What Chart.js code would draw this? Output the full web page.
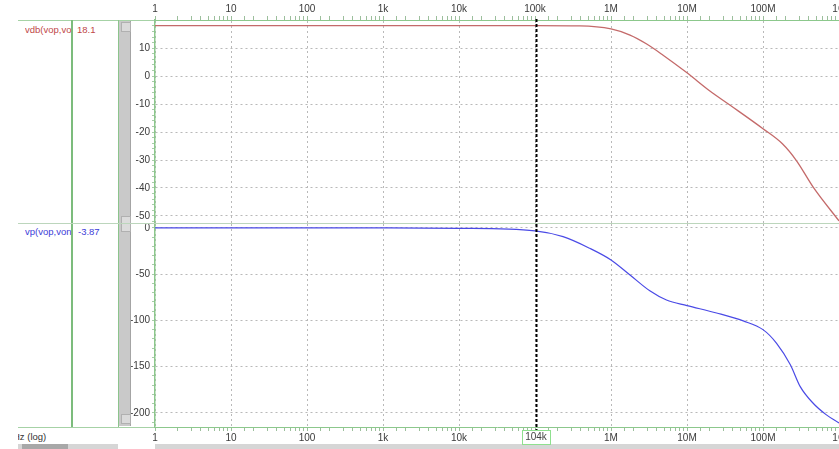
<!DOCTYPE html>
<html>
<head>
<meta charset="utf-8">
<script src="https://cdn.jsdelivr.net/npm/chart.js@4.4.1/dist/chart.umd.min.js"></script>
<style>
  body { margin: 0; width: 839px; height: 449px; overflow: hidden; background: #fff; position: relative;
         font-family: "Liberation Sans", Arial, sans-serif; }
  .abs { position: absolute; }
  .name { font-size: 9.5px; white-space: nowrap; overflow: hidden; }
  canvas { position: absolute; }
</style>
</head>
<body>
<!-- left trace list panel -->
<div class="abs" style="left:18px;top:20px;width:137px;height:1px;background:#a6d2a6"></div>
<div class="abs" style="left:18px;top:223px;width:821px;height:1px;background:#bcd6bc;z-index:2"></div>
<div class="abs" style="left:18px;top:427px;width:137px;height:1px;background:#a6d2a6"></div>
<div class="abs" style="left:71px;top:20px;width:2px;height:407px;background:#7cbc7c"></div>
<div class="abs" style="left:118px;top:20px;width:1px;height:407px;background:#8cc48c"></div>
<div class="abs" style="left:119px;top:21px;width:11px;height:405px;background:#c9c9c9;border-right:1px solid #a4a4a4"></div>
<div class="abs" style="left:121px;top:22px;width:8px;height:8px;background:#dadada;border:1px solid #b0b0b0"></div>
<div class="abs" style="left:121px;top:216px;width:8px;height:14px;background:#dcdcdc;border:1px solid #b0b0b0"></div>
<div class="abs" style="left:121px;top:414px;width:8px;height:8px;background:#dadada;border:1px solid #b0b0b0"></div>

<div class="abs name" style="left:25px;top:24px;width:46px;color:#c04848">vdb(vop,von)</div>
<div class="abs name" style="left:77px;top:24px;color:#c04848">18.1</div>
<div class="abs name" style="left:25px;top:226px;width:46px;color:#3c3cd8">vp(vop,von)</div>
<div class="abs name" style="left:78px;top:226px;color:#3c3cd8">-3.87</div>
<div class="abs name" style="left:18px;top:431px;width:50px;font-size:9.5px;color:#333"><span style="margin-left:-5px">Hz (log)</span></div>

<div class="abs" style="left:18px;top:444px;width:821px;height:5px;background:#d6d6d6"></div>
<div class="abs" style="left:22px;top:444px;width:46px;height:5px;background:#a8a8a8"></div>
<div class="abs" style="left:118px;top:444px;width:37px;height:5px;background:#fff"></div>

<canvas id="magChart" width="708" height="224" style="left:131px;top:0"></canvas>
<canvas id="phaseChart" width="708" height="225" style="left:131px;top:224px"></canvas>

<script>
// frequency axis
const freqTickValues = [1, 10, 100, 1e3, 1e4, 1e5, 1e6, 1e7, 1e8, 1e9];
const freqTickLabels = ['1', '10', '100', '1k', '10k', '100k', '1M', '10M', '100M', '1G'];
const cursorHz = 104000;
const cursorLabel = '104k';

// vdb(vop,von)
const magFreqHz = [1, 10, 100, 1e3, 1e4, 1e5, 3.9e5, 1e6, 1.78e6, 2.95e6, 4.8e6, 1e7, 2e7, 3.7e7, 1e8, 1.8e8, 2.75e8, 4.6e8, 1e9];
const magDb = [18.1, 18.1, 18.1, 18.1, 18.1, 18.1, 18.0, 16.9, 14.7, 11.5, 7.6, 1.2, -5.3, -10.4, -18.8, -24.2, -30.2, -39.8, -51.8];
const magTicks = [10, 0, -10, -20, -30, -40, -50];

// vp(vop,von)
const phaseFreqHz = [1, 10, 100, 1e3, 1e4, 1e5, 2.34e5, 5.25e5, 1e6, 1.78e6, 3.24e6, 5.37e6, 1e7, 2.45e7, 5.5e7, 1e8, 1.51e8, 2.29e8, 3.09e8, 4.57e8, 6.76e8, 1e9];
const phaseDeg = [0, 0, 0, 0, -0.4, -3.2, -9.4, -22, -34.6, -50.9, -68, -78, -84, -92, -100.6, -110, -124.8, -148, -171.7, -189.7, -202, -211];
const phaseTicks = [0, -50, -100, -150, -200];

Chart.defaults.font.family = '"Liberation Sans", Arial, sans-serif';
Chart.defaults.font.size = 10;
Chart.defaults.color = '#3a3a3a';

const gridColor = '#b9b9b9';
const axisGreen = '#8cc88c';

function isDecade(v) {
  const l = Math.log10(v);
  return Math.abs(l - Math.round(l)) < 1e-6;
}

function freqLabel(v, hideNearCursor) {
  if (!isDecade(v)) return '';
  const i = freqTickValues.findIndex(f => Math.abs(f - v) / f < 1e-6);
  if (i < 0) return '';
  if (hideNearCursor && Math.abs(Math.log10(cursorHz) - Math.log10(v)) < 0.1) return '';
  return freqTickLabels[i];
}

function xScale(position, hideNearCursor, h) {
  return {
    type: 'logarithmic',
    position,
    min: freqTickValues[0],
    max: freqTickValues[freqTickValues.length - 1],
    afterFit: s => { s.height = h; s.paddingLeft = 0; s.paddingRight = 0; },
    border: { color: axisGreen, width: 1, dash: [2, 3] },
    grid: {
      color: c => (c.tick && isDecade(c.tick.value)) ? gridColor : 'transparent',
      tickColor: '#9cbf9c',
      tickLength: 4,
    },
    ticks: {
      autoSkip: false,
      maxRotation: 0,
      padding: 1,
      callback: v => freqLabel(v, hideNearCursor),
    },
  };
}

function yScale(min, max, step, majors) {
  return {
    min, max,
    afterFit: s => { s.width = 24; s.paddingTop = 0; s.paddingBottom = 0; },
    border: { color: axisGreen, width: 1.5, dash: [2, 3] },
    grid: {
      color: c => (c.tick && majors.includes(c.tick.value)) ? gridColor : 'transparent',
      tickColor: '#a8cba8',
      tickLength: 3,
    },
    ticks: {
      stepSize: step,
      includeBounds: false,
      autoSkip: false,
      padding: 2,
      callback: v => majors.includes(v) ? String(v) : '',
    },
  };
}

function cursorPlugin(extendTop, extendBottom, withLabel) {
  return {
    id: 'cursor',
    afterDatasetsDraw(chart) {
      const { ctx, chartArea, scales } = chart;
      const x = Math.round(scales.x.getPixelForValue(cursorHz)) + 0.5;
      ctx.save();
      ctx.strokeStyle = '#000';
      ctx.lineWidth = 2;
      ctx.setLineDash([3, 2]);
      ctx.beginPath();
      ctx.moveTo(x, chartArea.top - extendTop);
      ctx.lineTo(x, chartArea.bottom + extendBottom);
      ctx.stroke();
      ctx.restore();
    },
    afterDraw(chart) {
      if (!withLabel) return;
      const { ctx, chartArea, scales } = chart;
      const x = Math.round(scales.x.getPixelForValue(cursorHz));
      ctx.save();
      ctx.font = '10px "Liberation Sans", Arial, sans-serif';
      const w = ctx.measureText(cursorLabel).width + 6;
      ctx.fillStyle = '#fff';
      ctx.fillRect(x - w / 2, chartArea.bottom + 3, w, 14);
      ctx.strokeStyle = '#8fe08f';
      ctx.lineWidth = 1;
      ctx.strokeRect(Math.round(x - w / 2) + 0.5, chartArea.bottom + 3.5, Math.round(w), 14);
      ctx.fillStyle = '#444';
      ctx.textAlign = 'center';
      ctx.textBaseline = 'middle';
      ctx.fillText(cursorLabel, x, chartArea.bottom + 10.5);
      ctx.restore();
    },
  };
}

const common = {
  responsive: false,
  animation: false,
  layout: { padding: 0 },
  plugins: { legend: { display: false }, tooltip: { enabled: false } },
  elements: { point: { radius: 0 } },
};

new Chart(document.getElementById('magChart'), {
  type: 'line',
  data: {
    datasets: [{
      label: 'vdb(vop,von)',
      data: magFreqHz.map((f, i) => ({ x: f, y: magDb[i] })),
      borderColor: '#c46a6a',
      borderWidth: 1.3,
      cubicInterpolationMode: 'monotone',
    }],
  },
  options: {
    ...common,
    scales: {
      x: xScale('top', false, 20),
      y: yScale(-52.9, 20.1, 2, magTicks),
    },
  },
  plugins: [cursorPlugin(1, 2, false)],
});

new Chart(document.getElementById('phaseChart'), {
  type: 'line',
  data: {
    datasets: [{
      label: 'vp(vop,von)',
      data: phaseFreqHz.map((f, i) => ({ x: f, y: phaseDeg[i] })),
      borderColor: '#4a4ae6',
      borderWidth: 1.2,
      cubicInterpolationMode: 'monotone',
    }],
  },
  options: {
    ...common,
    scales: {
      x: xScale('bottom', true, 22),
      y: yScale(-215.4, 4.3, 10, phaseTicks),
    },
  },
  plugins: [cursorPlugin(0, 3, true)],
});
</script>
</body>
</html>
